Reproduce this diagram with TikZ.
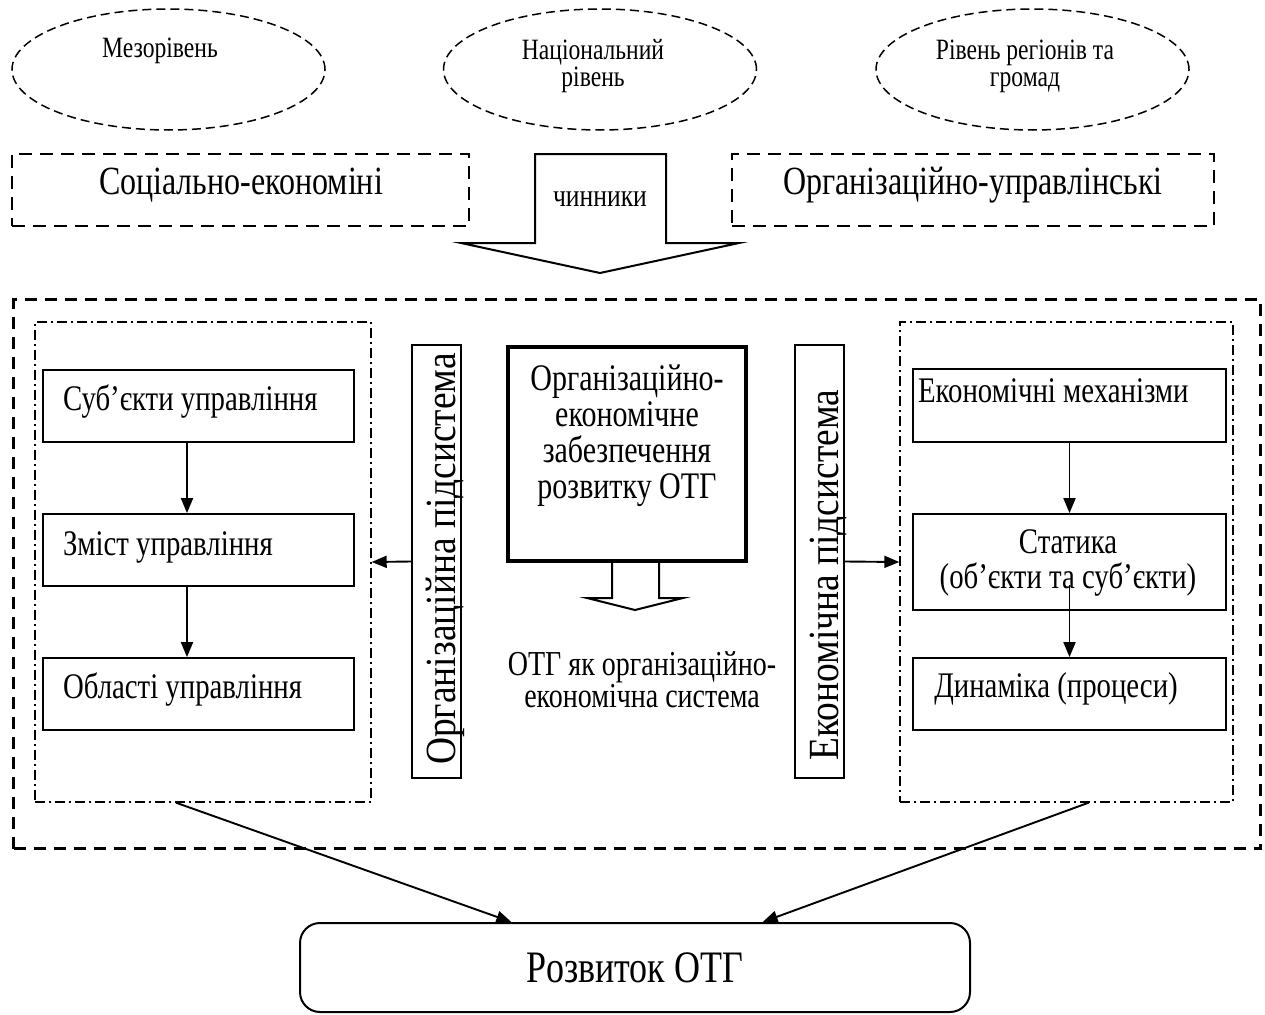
\documentclass[tikz,border=0pt]{standalone}
\usepackage{fontspec}
% narrow, tall lettering
\setmainfont{Liberation Serif}[FakeStretch=0.8]
\newfontfamily\captionfont{Liberation Serif}[FakeStretch=0.87]
\usetikzlibrary{arrows.meta,shapes.geometric,calc}

\newcommand{\fs}[2]{\fontsize{#1}{#2}\selectfont}

\begin{document}
\begin{tikzpicture}[x=1pt,y=-1pt,
  txt/.style={inner sep=0pt, outer sep=0pt},
  lvl/.style={draw, ellipse, dash pattern=on 9pt off 5pt, line width=1.5pt,
    minimum width=313pt, minimum height=121pt, inner sep=0pt},
  lvltext/.style={txt, font=\fs{29.5}{27}, align=center},
  factorbox/.style={draw, dash pattern=on 13pt off 8pt, line width=2pt, inner sep=0pt},
  outerbox/.style={draw, dash pattern=on 12pt off 8pt, line width=3.3pt, inner sep=0pt},
  groupbox/.style={draw, dash pattern=on 10pt off 4pt on 2pt off 4pt, line width=1.4pt, inner sep=0pt},
  itembox/.style={draw, line width=1.8pt, inner sep=0pt},
  itemtext/.style={txt, font=\fs{36}{35}},
  vbox/.style={draw, line width=1.8pt, inner sep=0pt, minimum width=49pt, minimum height=433pt},
  vtext/.style={txt, rotate=90, anchor=base, font=\captionfont\fs{43}{46}},
  arr/.style={line width=1.9pt, -{Triangle[length=15pt,width=12pt]}},
  hollow/.style={line width=2pt, line join=miter},
]
\useasboundingbox (0,0) rectangle (1265,1014);

% levels of governance
\node[lvl] (meso) at (168.5,69.5) {};
\node[lvl] (nat) at (600,69.5) {};
\node[lvl] (reg) at (1032.5,69.5) {};
\node[lvltext, anchor=base] (mesot) at (160,58) {Мезорівень};
\node[lvltext] (natt) at (593,66) {Національний\\рівень};
\node[lvltext] (regt) at (1025,66) {Рівень регіонів та\\громад};

% groups of factors
\node[factorbox, minimum width=457pt, minimum height=72pt] (soc) at (240.5,190) {};
\node[txt, anchor=base, font=\fs{40}{36}] (soct) at (241,194) {Соціально-економіні};
\node[factorbox, minimum width=482pt, minimum height=72pt] (orgf) at (973,190) {};
\node[txt, anchor=base, font=\fs{40}{36}] (orgft) at (973,194) {Організаційно-управлінські};

% wide arrow of the factors
\draw[hollow] (535,154) -- (666,154) -- (666,243) -- (739,243) -- (600,273)
  -- (461,243) -- (535,243) -- cycle;
\node[txt, anchor=base, font=\fs{32}{30}] (chin) at (600,206) {чинники};

% the system as a whole
\node[outerbox, minimum width=1247pt, minimum height=549pt] (system) at (637,574) {};
\node[groupbox, minimum width=336pt, minimum height=480pt] (orgsys) at (203,562) {};
\node[groupbox, minimum width=333pt, minimum height=480pt] (ecosys) at (1066.5,562) {};

% organisational subsystem
\node[itembox, minimum width=311pt, minimum height=72pt] (subj) at (198.5,406) {};
\node[itembox, minimum width=311pt, minimum height=72pt] (cont) at (198.5,550) {};
\node[itembox, minimum width=311pt, minimum height=72pt] (area) at (198.5,694) {};
\node[itemtext, anchor=base west] (subjt) at (63,410) {Суб’єкти управління};
\node[itemtext, anchor=base west] (contt) at (63,555) {Зміст управління};
\node[itemtext, anchor=base west] (areat) at (63,698) {Області управління};
\draw[arr] ([xshift=-11.5pt]subj.south) -- ([xshift=-11.5pt]cont.north);
\draw[arr] ([xshift=-11.5pt]cont.south) -- ([xshift=-11.5pt]area.north);

% economic subsystem
\node[itembox, minimum width=313pt, minimum height=73pt] (mech) at (1069.5,405.5) {};
\node[itembox, minimum width=313pt, minimum height=96pt] (stat) at (1069.5,562) {};
\node[itembox, minimum width=313pt, minimum height=72pt] (dyn) at (1069.5,694) {};
\node[itemtext, anchor=base west] (mecht) at (918,402) {Економічні механізми};
\node[itemtext, align=center] (statt) at (1068,563) {Статика\\(об’єкти та суб’єкти)};
\node[itemtext, anchor=base] (dynt) at (1056,697) {Динаміка (процеси)};
\draw[arr] (mech.south) -- (stat.north);
\draw[arr] ([yshift=-23pt]stat.center) -- (dyn.north);

% vertical captions of the subsystems
\node[vbox] (orgv) at (436.5,561.5) {};
\node[vtext] (orgvt) at (455,559) {Організаційна підсистема};
\node[vbox] (ecov) at (819.5,561.5) {};
\node[vtext] (ecovt) at (838,575) {Економічна підсистема};
\draw[arr] (orgv.west) -- (orgsys.east);
\draw[arr] (ecov.east) -- (ecosys.west);

% core block
\node[draw, line width=4pt, minimum width=238pt, minimum height=214pt, inner sep=0pt] (core) at (627,454) {};
\node[txt, align=center, font=\fs{37.5}{36}] (coret) at (627,436)
  {Організаційно-\\економічне\\забезпечення\\розвитку ОТГ};
\draw[hollow] (612,563) -- (612,598) -- (587,598) -- (635,610) -- (683,598)
  -- (659,598) -- (659,563);
\node[txt, align=center, font=\fs{35}{32}] (otg) at (642,680)
  {ОТГ як організаційно-\\економічна система};

% result
\node[draw, line width=2pt, rounded corners=20pt, minimum width=670pt, minimum height=89pt,
  inner sep=0pt, font=\fs{45}{40}] (dev) at (635,967.5) {Розвиток ОТГ};
\draw[arr] ($(orgsys.south west)!0.42!(orgsys.south east)$) -- ($(dev.north west)!0.316!(dev.north east)$);
\draw[arr] ($(ecosys.south west)!0.566!(ecosys.south east)$) -- ($(dev.north west)!0.69!(dev.north east)$);
\end{tikzpicture}
\end{document}
